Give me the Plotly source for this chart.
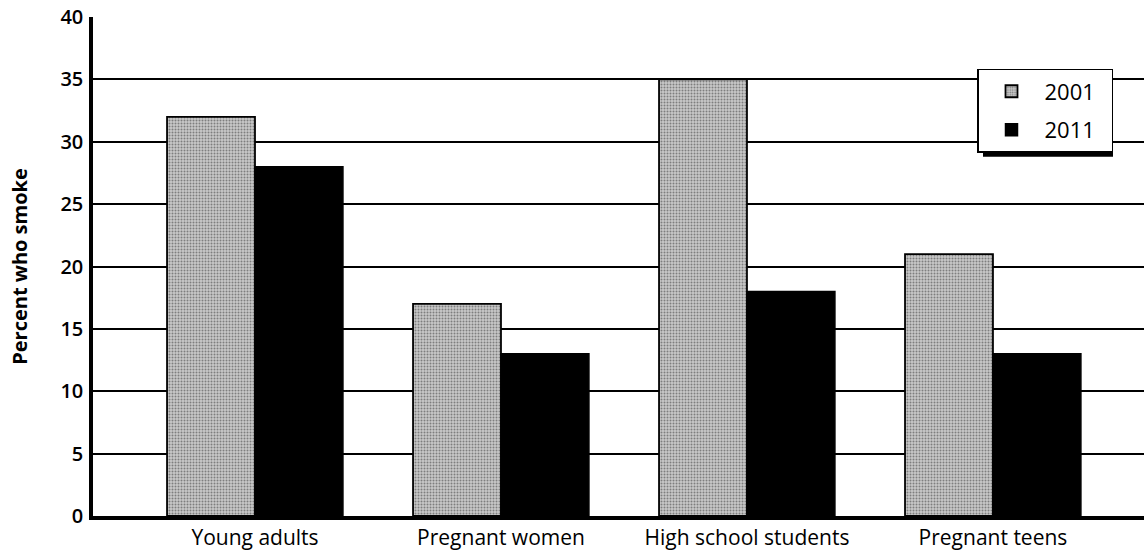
import plotly.graph_objects as go

categories = ["Young adults", "Pregnant women", "High school students", "Pregnant teens"]
years = ["2001", "2011"]
values_2001 = [32, 17, 35, 21]
values_2011 = [28, 13, 18, 13]
y_ticks = [0, 5, 10, 15, 20, 25, 30, 35, 40]

pos = list(range(len(categories)))
NBSP = "\u00a0"

fig = go.Figure()
fig.add_trace(go.Bar(
    x=pos, y=values_2001, name=years[0] + NBSP * 2, legendgroup="a",
    marker=dict(color="#c0c0c0",
                pattern=dict(shape=".", fgcolor="#333333", bgcolor="#c8c8c8", size=3, solidity=0.35),
                line=dict(color="black", width=1.8)),
))
fig.add_trace(go.Bar(
    x=pos, y=values_2011, name=years[1] + NBSP * 2, legendgroup="b",
    marker=dict(color="black", line=dict(color="black", width=1.5)),
))

# legend drop shadow (decoration)
fig.add_shape(type="rect", xref="paper", yref="paper",
              x0=(983 - 93) / 1051, x1=(1113 - 93) / 1051,
              y0=(516.6 - 157) / 499.6, y1=(516.6 - 75) / 499.6,
              fillcolor="black", line=dict(width=0), layer="above")

fig.update_layout(
    width=1144, height=552,
    margin=dict(l=93, r=0, t=17, b=36, autoexpand=False),
    paper_bgcolor="white", plot_bgcolor="white",
    barmode="group", bargap=0.285, bargroupgap=0,
    font=dict(family="Open Sans", color="black"),
    showlegend=True,
    legend=dict(
        x=(977 - 93) / 1051, y=(516.6 - 69) / 499.6, xanchor="left", yanchor="top",
        bgcolor="white", bordercolor="black", borderwidth=1.5,
        font=dict(size=22, color="black"),
        traceorder="grouped", tracegroupgap=7, itemwidth=56,
    ),
    xaxis=dict(
        range=[-0.6585, 3.614],
        tickmode="array", tickvals=pos, ticktext=categories,
        tickfont=dict(size=21),
        showgrid=False, zeroline=False,
        showline=True, linecolor="black", linewidth=3.5,
        ticks="", ticklen=0, automargin=False,
    ),
    yaxis=dict(
        range=[0, 40],
        tickmode="array", tickvals=y_ticks,
        tickfont=dict(size=20, weight=600),
        showgrid=True, gridcolor="black", gridwidth=1.5,
        zeroline=False,
        showline=True, linecolor="black", linewidth=3.5,
        ticks="", ticklabelstandoff=2, automargin=False,
        title=dict(text="Percent who smoke", font=dict(size=20, weight=700), standoff=28),
    ),
)

fig.write_html("out.html", config={"displayModeBar": False},
               post_script="document.body.style.margin='0px';")
